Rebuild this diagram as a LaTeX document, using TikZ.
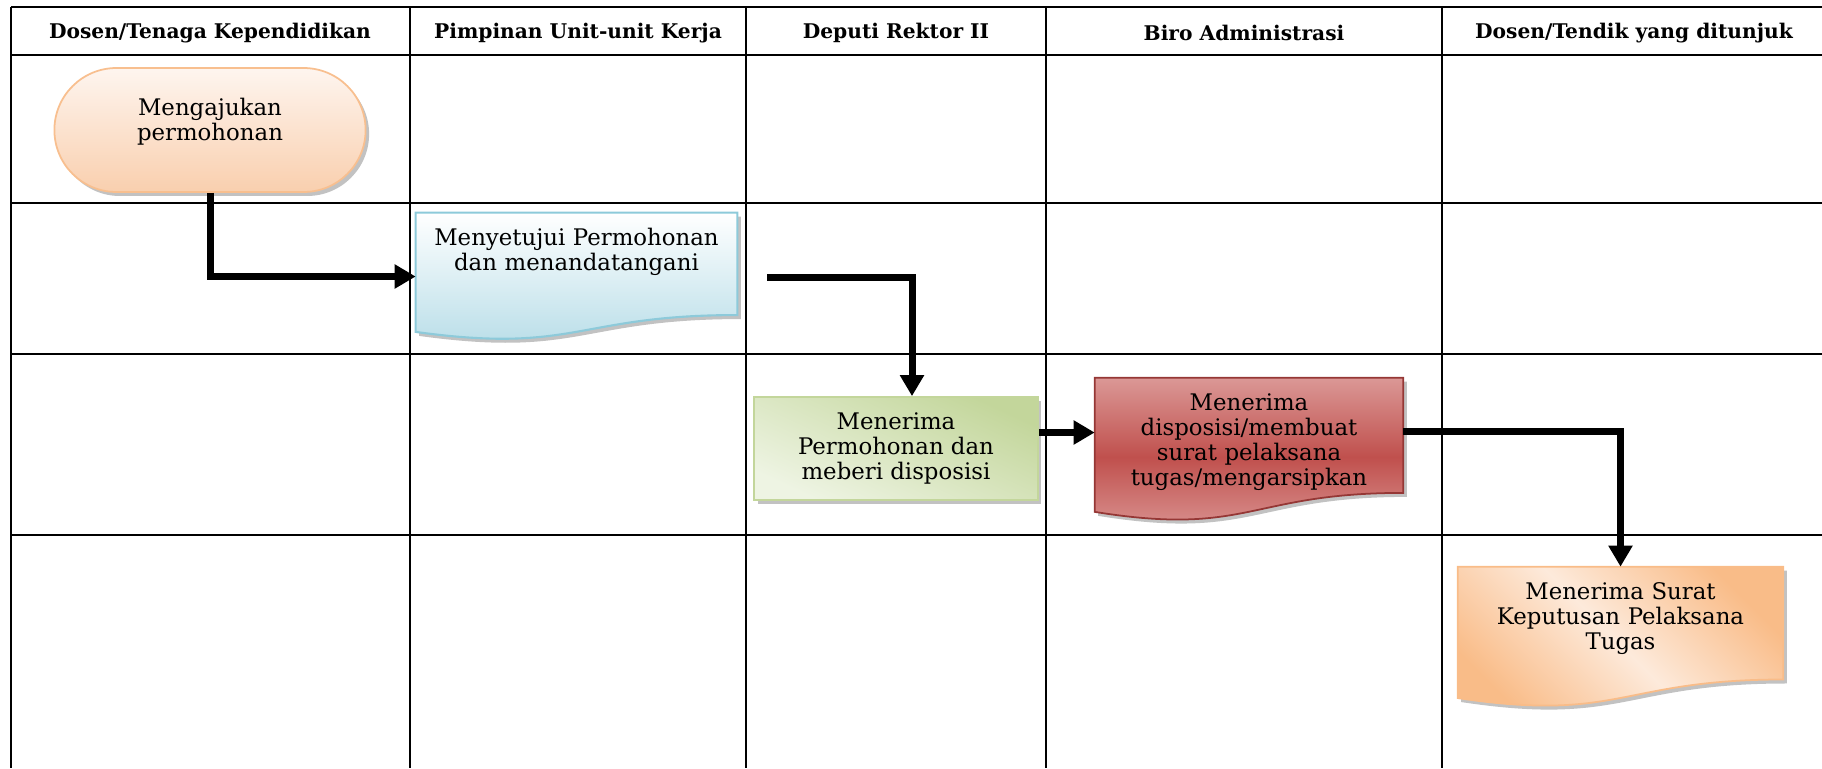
\documentclass[tikz,border=0pt]{standalone}
\usepackage{fontspec}
\setmainfont{DejaVu Serif}
\usetikzlibrary{arrows.meta, calc, shadows, shapes.misc}
\pgfdeclarelayer{grid}
\pgfdeclarelayer{back}
\pgfsetlayers{grid,back,main}

\definecolor{termtop}{HTML}{FEF5EF}
\definecolor{termbot}{HTML}{F9CFAE}
\definecolor{termline}{HTML}{F8BF8F}
\definecolor{bluebot}{HTML}{B5DCE7}
\definecolor{blueline}{HTML}{8DCADA}
\definecolor{greendark}{HTML}{C3D69B}
\definecolor{greenlight}{HTML}{EEF4E3}
\definecolor{redlight}{HTML}{DB9896}
\definecolor{redmid}{HTML}{C0504D}
\definecolor{redline}{HTML}{953735}
\definecolor{orangedark}{HTML}{F9BC88}
\definecolor{orangelight}{HTML}{FDEADB}

\tikzset{
  lane/.style={line width=1.1pt},
  head/.style={font=\bfseries\fontsize{11.5}{13}\selectfont},
  arr/.style={-{Triangle[length=0.42cm,width=0.46cm]}, line width=0.14cm},
  softshadow/.style={drop shadow={shadow xshift=0.07cm, shadow yshift=-0.08cm, fill=black!40, opacity=0.6}},
  doctext/.style={align=center, inner xsep=0.2cm, inner ysep=0.24cm, text height=0.4cm, text depth=#1},
  docpath/.style={insert path={(#1.north west) -- (#1.north east) -- ($(#1.north east)!0.802!(#1.south east)$)
    .. controls ($(#1.north)!0.802!(#1.south)$) and ($(#1.north)!1.108!(#1.south)$) .. ($(#1.north west)!0.934!(#1.south west)$) -- cycle}}
}

\begin{document}
\begin{tikzpicture}[x=0.02cm, y=-0.02cm, font=\fontsize{13}{14.3}\selectfont]
\useasboundingbox (0,0) rectangle (1822,768);

% lanes
\begin{pgfonlayer}{grid}
\foreach \y in {7,55,203,354,535}
  \draw[lane] (11,\y) -- (1822,\y);
\foreach \x in {11,410,746,1046,1442}
  \draw[lane] (\x,7) -- (\x,768);
\end{pgfonlayer}

\node[head] (h1) at (210,33) {Dosen/Tenaga Kependidikan};
\node[head] (h2) at (578,33) {Pimpinan Unit-unit Kerja};
\node[head] (h3) at (896,33) {Deputi Rektor II};
\node[head] (h4) at (1244,33) {Biro Administrasi};
\node[head] (h5) at (1634,33) {Dosen/Tendik yang ditunjuk};

% steps
\node[rounded rectangle, minimum width=6.46cm, minimum height=2.48cm, align=center, text depth=0.42cm,
  draw=termline, line width=1pt, top color=termtop, bottom color=termbot, softshadow]
  (mohon) at (210,130) {Mengajukan\\permohonan};
\node[doctext=1.66cm, text width=6.0cm, minimum width=6.42cm] (setuju) at (576.5,276.5)
  {Menyetujui Permohonan\\dan menandatangani};
\node[rectangle, minimum width=5.68cm, minimum height=2.06cm, align=center,
  draw=greendark, line width=1pt, top color=greendark, bottom color=greenlight, shading angle=-25, softshadow]
  (terima) at (896,448.5) {Menerima\\Permohonan dan\\meberi disposisi};
\node[doctext=1.98cm, text width=5.76cm, minimum width=6.16cm] (arsip) at (1249,449.5)
  {Menerima\\disposisi/membuat\\surat pelaksana\\tugas/mengarsipkan};
\node[doctext=1.92cm, text width=6.1cm, minimum width=6.5cm] (surat) at (1620.5,637)
  {Menerima Surat\\Keputusan Pelaksana\\Tugas};

\begin{pgfonlayer}{back}
\path[draw=blueline, line width=1.2pt, top color=white, bottom color=bluebot, softshadow, docpath=setuju];
\path[draw=redline, line width=1pt, top color=redlight, bottom color=redlight, middle color=redmid, softshadow, docpath=arsip];
\path[draw=orangedark, line width=1pt, top color=orangedark, bottom color=orangedark, middle color=orangelight, shading angle=-45, softshadow, docpath=surat];
\end{pgfonlayer}

% flow
\coordinate (lepas) at (767,277);
\draw[arr] (mohon.south) |- (setuju.west);
\draw[arr] (lepas) -| ([xshift=0.32cm]terima.north);
\draw[arr] ([yshift=0.32cm]terima.east) -- ([yshift=0.32cm]terima.east -| arsip.west);
\draw[arr] ([yshift=0.36cm]arsip.east) -| (surat.north);
\end{tikzpicture}
\end{document}
